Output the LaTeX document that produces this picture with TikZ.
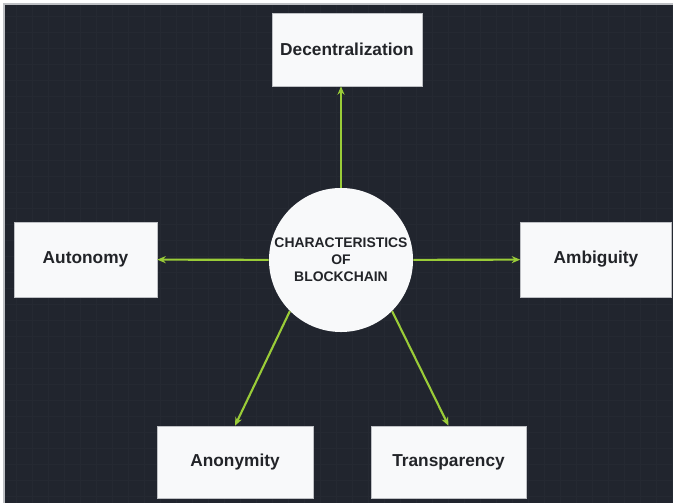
\documentclass[tikz,border=0pt]{standalone}
\usepackage{fontspec}
\setmainfont{Liberation Sans}
\usepackage{tikz}
\usetikzlibrary{arrows.meta, positioning, calc}
\definecolor{chainbg}{RGB}{33,37,46}
\definecolor{chaingrid}{RGB}{37,41,50}
\definecolor{chainlime}{RGB}{154,204,56}
\definecolor{chainbox}{RGB}{248,249,250}
\definecolor{chainedge}{RGB}{190,192,196}
\definecolor{chaintext}{RGB}{34,36,40}

\begin{document}
\begin{tikzpicture}[x=0.025cm, y=-0.025cm,
  trait/.style={draw=chainedge, line width=0.4pt, fill=chainbox, text=chaintext,
    font=\bfseries\fontsize{12.3}{14}\selectfont, inner sep=0pt},
  hub/.style={circle, fill=chainbox, text=chaintext, align=center,
    font=\bfseries\fontsize{9.9}{12.1}\selectfont, minimum size=3.6cm, inner sep=0pt},
  link/.style={chainlime, line width=1.5pt, -{Stealth[length=6pt, width=5pt]}}]
  % Canvas
  \useasboundingbox (0,0) rectangle (673,503);
  \fill[white] (0,0) rectangle (673,503);
  \fill[chainbg] (4,4) rectangle (673,503);
  \draw[chainedge, line width=0.8pt] (4,503) -- (4,4) -- (673,4);
  \draw[chaingrid, line width=0.3pt, step=0.4cm] (5,5) grid (673,503);
  % Central node
  \node[hub] (core) at (341,260) {CHARACTERISTICS\\OF\\BLOCKCHAIN};
  % Five characteristics
  \node[trait, minimum width=3.75cm, minimum height=1.825cm] (decent) at (347,49.5) {Decentralization};
  \node[trait, minimum width=3.575cm, minimum height=1.875cm] (auton) at (85.5,259.5) {Autonomy};
  \node[trait, minimum width=3.775cm, minimum height=1.875cm] (ambig) at (596,259.5) {Ambiguity};
  \node[trait, minimum width=3.9cm, minimum height=1.8cm] (anony) at (235,462) {Anonymity};
  \node[trait, minimum width=3.875cm, minimum height=1.8cm] (transp) at (448.5,462) {Transparency};
  % Connecting arrows
  \draw[link] (core.north) -- (core.north |- decent.south);
  \draw[link] (core) -- (auton);
  \draw[link] (core) -- (ambig);
  \draw[link] (core.south west) -- (anony.north);
  \draw[link] (core.south east) -- (transp.north);
\end{tikzpicture}
\end{document}
